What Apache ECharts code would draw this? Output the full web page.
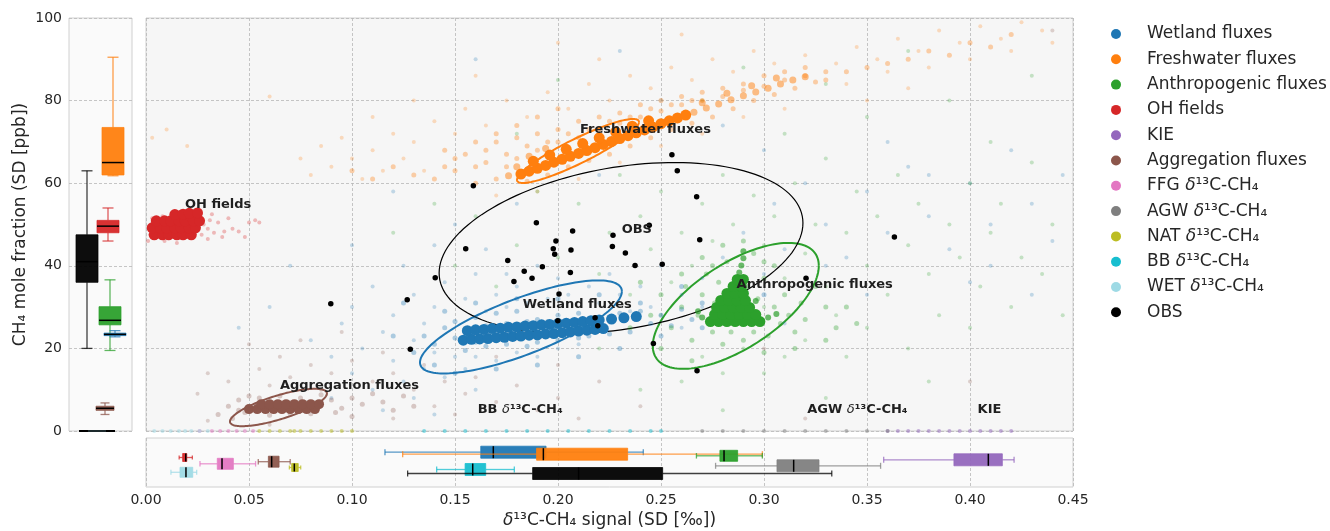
<!DOCTYPE html>
<html><head><meta charset="utf-8">
<script src="https://cdn.jsdelivr.net/npm/echarts@6/dist/echarts.min.js"></script>
<style>html,body{margin:0;padding:0;background:#fff}#c{width:1330px;height:531px}</style>
</head><body><div id="c"></div><script>
const FONT = 'DejaVu Sans';
const INK = '#262626';

// ---------- axes ----------
const permilTicks = [0, 0.05, 0.10, 0.15, 0.20, 0.25, 0.30, 0.35, 0.40, 0.45];
const ppbTicks = [0, 20, 40, 60, 80, 100];

// ---------- sources ----------
const sourceNames = ['Wetland fluxes','Freshwater fluxes','Anthropogenic fluxes','OH fields','KIE','Aggregation fluxes',
  'FFG δ¹³C-CH₄','AGW δ¹³C-CH₄','NAT δ¹³C-CH₄','BB δ¹³C-CH₄','WET δ¹³C-CH₄','OBS'];
const sourceColors = ['#1f77b4','#ff7f0e','#2ca02c','#d62728','#9467bd','#8c564b',
  '#e377c2','#7f7f7f','#bcbd22','#17becf','#9edae5','#000000'];

// ---------- scatter: [SD d13C (permil), SD CH4 (ppb)] ----------
const wetlandSpread = [[0.08,22],[0.09,18],[0.095,26],[0.1,14],[0.1,30],[0.105,20],[0.11,35],[0.11,10],[0.115,24],[0.12,17],[0.12,28],[0.125,40],[0.125,12],[0.13,22],[0.13,33],[0.135,15],[0.135,26],[0.14,19],[0.14,30],[0.14,45],[0.145,13],[0.145,36],[0.15,18],[0.15,50],[0.155,32],[0.155,15],[0.16,38],[0.16,18],[0.165,29],[0.165,44],[0.17,17],[0.17,33],[0.175,30],[0.175,38],[0.18,19],[0.18,35],[0.185,31],[0.19,18],[0.19,40],[0.195,32],[0.2,20],[0.2,37],[0.205,33],[0.21,21],[0.215,35],[0.22,31],[0.225,38],[0.23,33],[0.235,29],[0.24,35],[0.245,30],[0.25,40],[0.26,33],[0.26,25],[0.27,37],[0.27,30],[0.28,42],[0.285,34],[0.29,48],[0.3,38],[0.305,55],[0.31,44],[0.32,60],[0.33,50],[0.34,42],[0.35,58],[0.36,48],[0.37,64],[0.38,52],[0.39,44],[0.4,60],[0.41,50],[0.42,68],[0.43,55],[0.44,46],[0.445,62],[0.3,68],[0.28,74],[0.25,80],[0.22,62],[0.18,55],[0.12,58],[0.1,45],[0.07,40],[0.06,30],[0.045,25],[0.16,90],[0.23,92],[0.115,5],[0.09,8],[0.36,70],[0.41,40],[0.43,33],[0.13,8],[0.14,4],[0.16,10],[0.31,26],[0.33,40],[0.35,33],[0.38,62],[0.4,36]];
const wetlandHalo = [[0.14,21],[0.145,25],[0.15,22.5],[0.15,26.5],[0.155,19.5],[0.155,24],[0.16,21.5],[0.16,27.5],[0.165,25.5],[0.165,20.5],[0.17,22],[0.17,28.5],[0.175,26],[0.175,21],[0.18,24.5],[0.18,29],[0.185,26.5],[0.185,20.5],[0.19,27],[0.19,21.5],[0.195,26.5],[0.2,22],[0.2,28],[0.205,26.5],[0.21,22.5],[0.21,28.5],[0.215,23],[0.22,27.5],[0.225,23.5],[0.23,28.5],[0.235,24],[0.24,29],[0.245,26],[0.25,28],[0.255,25.5],[0.26,29.5],[0.265,27],[0.27,31],[0.275,28.5],[0.28,32],[0.13,19],[0.135,23],[0.14,16],[0.145,29],[0.15,14],[0.16,31],[0.17,15],[0.18,32],[0.19,16],[0.2,32],[0.21,18],[0.22,33],[0.23,20],[0.24,31],[0.25,23],[0.26,35],[0.27,25],[0.285,30],[0.29,36],[0.3,33],[0.12,23],[0.125,31]];
const wetlandCore = [[0.154,22],[0.158,22.2],[0.162,22.3],[0.166,22.4],[0.17,22.6],[0.174,22.7],[0.178,22.9],[0.182,23],[0.186,23.2],[0.19,23.3],[0.194,23.5],[0.198,23.6],[0.202,23.8],[0.206,24],[0.21,24.2],[0.214,24.4],[0.218,24.6],[0.222,24.8],
  [0.156,24.3],[0.16,24.5],[0.164,24.6],[0.168,24.8],[0.172,24.9],[0.176,25.1],[0.18,25.2],[0.184,25.4],[0.188,25.5],[0.192,25.7],[0.196,25.8],[0.2,26],[0.204,26.1],[0.208,26.3],[0.212,26.5],[0.216,26.7],[0.22,26.9],[0.226,27.1],[0.232,27.4],[0.238,27.7]];

const freshSpread = [[0.003,71],[0.01,73],[0.02,69],[0.06,81],[0.075,66],[0.08,62],[0.085,69],[0.09,64],[0.095,71],[0.1,66],[0.105,61],[0.11,68],[0.115,63],[0.12,72],[0.125,66],[0.13,70],[0.135,63],[0.14,75],[0.15,72],[0.155,78],[0.165,74],[0.175,80],[0.185,76],[0.195,82],[0.205,78],[0.215,84],[0.225,80],[0.235,86],[0.245,83],[0.255,88],[0.265,85],[0.275,90],[0.285,87],[0.295,92],[0.305,89],[0.32,91],[0.335,89],[0.345,93],[0.355,90],[0.365,95],[0.375,92],[0.385,97],[0.395,94],[0.405,98],[0.415,95],[0.425,99],[0.435,97],[0.44,94],[0.34,84],[0.36,87],[0.38,88],[0.4,90],[0.42,92],[0.35,80],[0.37,83],[0.31,78],[0.29,76],[0.27,72],[0.25,69],[0.23,65],[0.21,61],[0.19,58],[0.17,57],[0.22,90],[0.2,94],[0.26,96],[0.16,86],[0.13,80],[0.11,76]];
const freshHalo = [[0.17,61],[0.175,64],[0.18,66],[0.185,60.5],[0.19,68],[0.195,62],[0.2,70],[0.205,64],[0.21,71],[0.215,65.5],[0.22,73],[0.225,67],[0.23,74.5],[0.235,69],[0.24,76],[0.245,71],[0.25,77.5],[0.255,73],[0.26,79],[0.265,74.5],[0.27,80],[0.275,76],[0.28,81],[0.285,78],[0.29,82.5],[0.295,80],[0.3,83.5],[0.305,81.5],[0.31,85],[0.315,83],[0.32,86],[0.325,84.5],[0.33,87],[0.15,63],[0.155,67],[0.16,60],[0.165,65],[0.14,61],[0.145,68],[0.16,70],[0.17,72],[0.18,74],[0.19,76],[0.2,78],
  [0.145,64],[0.15,66],[0.16,64],[0.165,68],[0.17,70],[0.175,67],[0.18,71],[0.185,69],[0.19,72],[0.195,70],[0.2,73],[0.205,72],[0.21,75],[0.215,73],[0.22,76],[0.225,75],[0.23,77],[0.235,76],[0.24,79],[0.245,78],[0.25,80],[0.255,79],[0.26,81],[0.265,80],[0.27,82],[0.28,83],[0.29,84],[0.3,86],[0.31,87],[0.32,88],[0.33,85],[0.34,87],[0.35,88],[0.36,89],[0.37,90],[0.38,92],[0.39,91],[0.4,94],[0.41,93],[0.42,96],[0.13,62],[0.12,64],[0.11,61],[0.1,63]];
const freshRidge = [[0.266,77.2],[0.272,78.2],[0.278,79.2],[0.284,80.2],[0.29,81.2],[0.296,82.1],[0.302,83],[0.308,84],[0.314,85],[0.32,85.8],[0.27,79.5],[0.282,81.8],[0.294,83.6],[0.306,85.5],[0.176,61.8],[0.18,64],[0.186,66.5],[0.194,68.4]];
const freshCore = [[0.182,62.2],[0.186,62.9],[0.19,63.6],[0.194,64.3],[0.198,65.1],[0.202,65.8],[0.206,66.5],[0.21,67.2],[0.214,67.9],[0.218,68.6],[0.222,69.4],[0.226,70.1],[0.23,70.8],[0.234,71.5],[0.238,72.2],[0.242,72.9],[0.246,73.6],[0.25,74.4],[0.254,75.1],[0.258,75.8],[0.262,76.5],
  [0.188,65.3],[0.196,66.8],[0.204,68.2],[0.212,69.6],[0.22,71],[0.228,72.4],[0.236,73.8],[0.244,75.1]];

const anthroSpread = [[0.15,40],[0.16,52],[0.17,35],[0.18,45],[0.19,58],[0.2,42],[0.21,55],[0.22,38],[0.225,48],[0.23,62],[0.235,33],[0.24,52],[0.245,44],[0.25,58],[0.255,36],[0.26,48],[0.26,12],[0.265,40],[0.27,55],[0.27,18],[0.275,46],[0.28,62],[0.28,14],[0.285,50],[0.29,20],[0.295,57],[0.3,45],[0.3,14],[0.305,52],[0.31,37],[0.31,18],[0.315,60],[0.32,43],[0.32,22],[0.325,50],[0.33,35],[0.33,66],[0.335,28],[0.34,48],[0.34,18],[0.345,58],[0.35,40],[0.35,25],[0.355,52],[0.36,33],[0.365,62],[0.37,45],[0.37,20],[0.375,55],[0.38,38],[0.385,28],[0.39,50],[0.395,42],[0.4,60],[0.4,25],[0.405,35],[0.41,48],[0.415,55],[0.42,30],[0.425,42],[0.43,65],[0.435,38],[0.44,50],[0.445,28],[0.25,75],[0.27,80],[0.29,88],[0.31,72],[0.33,84],[0.35,76],[0.37,92],[0.39,80],[0.41,70],[0.43,86],[0.2,85],[0.18,72],[0.14,55],[0.12,48],[0.22,20],[0.24,10],[0.28,5],[0.33,8],[0.38,12],[0.3,30],[0.25,28]];
const anthroHalo = [[0.255,25],[0.26,30],[0.262,35],[0.265,22],[0.268,28],[0.27,33],[0.272,38],[0.275,24],[0.276,31],[0.278,36],[0.28,21],[0.282,41],[0.284,24],[0.286,37],[0.29,22],[0.292,35],[0.295,24],[0.297,32],[0.3,37],[0.302,23],[0.305,30],[0.308,26],[0.31,33],[0.312,28],[0.315,24],[0.318,31],[0.32,27],[0.26,38],[0.27,42],[0.28,45],[0.29,46],[0.295,43],[0.3,41],[0.25,33],[0.245,28],[0.33,30],[0.335,25],[0.325,35],[0.24,36],[0.235,25],[0.25,20],[0.265,17],[0.3,19],[0.315,20],[0.33,22],[0.34,30],[0.345,26],[0.275,40],[0.305,40]];
const anthroCore = [[0.274,26.5],[0.278,26.5],[0.282,26.5],[0.286,26.5],[0.29,26.5],[0.294,26.5],[0.298,26.5],
  [0.276,28.2],[0.28,28.2],[0.284,28.2],[0.288,28.2],[0.292,28.2],[0.296,28.2],
  [0.277,29.9],[0.281,29.9],[0.285,29.9],[0.289,29.9],[0.293,29.9],
  [0.279,31.6],[0.283,31.6],[0.287,31.6],[0.291,31.6],
  [0.282,33.3],[0.286,33.3],[0.29,33.3],[0.285,35],[0.289,35],[0.287,36.7],[0.29,36.7]];
const anthroStreak = [[0.288,38.4],[0.289,40.1],[0.29,41.8],[0.29,43.5],[0.27,27.5],[0.268,29],[0.302,27.5],[0.306,28.3],[0.296,31.5]];

const ohSpread = [[0.001,46],[0.003,51.5],[0.002,47.5],[0.028,50],[0.03,49],[0.031,51],[0.033,48],[0.035,50.5],[0.037,47],[0.04,51.5],[0.042,49],[0.045,48.3],[0.05,50.5],[0.053,51],[0.055,50.5],[0.048,47],[0.038,48.3],[0.03,46.5],[0.015,45.5],[0.009,46],[0.027,47.5],[0.032,52.5],[0.016,53],[0.008,52]];
const ohCore = [[0.004,47.5],[0.008,47.5],[0.011,47.5],[0.015,47.5],[0.018,47.5],[0.022,47.5],
  [0.003,49.2],[0.007,49.2],[0.01,49.2],[0.014,49.2],[0.017,49.2],[0.021,49.2],[0.024,49.2],
  [0.005,50.9],[0.009,50.9],[0.012,50.9],[0.016,50.9],[0.019,50.9],[0.023,50.9],[0.026,50.9],
  [0.014,52.4],[0.018,52.5],[0.021,52.7],[0.025,52.8]];

const aggSpread = [[0.025,9],[0.03,14],[0.04,12],[0.055,15],[0.06,11],[0.065,18],[0.07,13],[0.08,16],[0.085,10],[0.09,14],[0.1,17],[0.11,12],[0.115,19],[0.12,14],[0.13,10],[0.135,16],[0.14,6],[0.145,12],[0.15,4],[0.155,9],[0.16,13],[0.17,7],[0.18,11],[0.19,5],[0.2,8],[0.21,3],[0.22,12],[0.24,6],[0.05,21],[0.075,22],[0.095,24],[0.12,3],[0.06,1.5],[0.03,2.5],[0.17,18],[0.2,16],[0.3,20],[0.32,3],[0.4,12],[0.44,97]];
const aggHalo = [[0.035,4],[0.04,6],[0.042,3],[0.045,7.5],[0.048,4.5],[0.05,8.5],[0.09,7.5],[0.095,5.5],[0.1,8],[0.105,6.5],[0.11,9],[0.115,7],[0.12,5],[0.125,8.5],[0.045,5],[0.092,4.5],[0.1,3.5],[0.13,6],[0.055,8],[0.065,8.5],[0.075,8],[0.085,8.8],[0.06,3.8],[0.07,4],[0.08,4.2]];
const aggCore = [[0.05,5.3],[0.054,5.3],[0.058,5.3],[0.062,5.3],[0.066,5.3],[0.07,5.3],[0.074,5.3],[0.078,5.3],[0.082,5.3],
  [0.056,6.5],[0.06,6.5],[0.064,6.5],[0.068,6.5],[0.072,6.5],[0.076,6.5],[0.08,6.5],[0.084,6.5]];

// sources with no CH4 signal (plotted on the 0 ppb line)
const kieZero = [[0.36,0],[0.365,0],[0.37,0],[0.375,0],[0.38,0],[0.385,0],[0.39,0],[0.395,0],[0.4,0],[0.405,0],[0.41,0],[0.415,0],[0.42,0]];
const ffgZero = [[0.026,0],[0.032,0],[0.036,0],[0.04,0],[0.044,0],[0.048,0],[0.052,0]];
const agwZero = [[0.27,0],[0.28,0],[0.29,0],[0.3,0],[0.31,0],[0.32,0],[0.33,0],[0.34,0],[0.35,0],[0.36,0]];
const natZero = [[0.055,0],[0.06,0],[0.065,0],[0.07,0],[0.072,0],[0.075,0],[0.08,0],[0.085,0],[0.09,0],[0.095,0],[0.1,0]];
const bbZero = [[0.135,0],[0.145,0],[0.155,0],[0.165,0],[0.175,0],[0.185,0],[0.195,0],[0.205,0],[0.215,0],[0.225,0],[0.235,0],[0.245,0],[0.25,0]];
const wetZero = [[0.004,0],[0.008,0],[0.012,0],[0.016,0],[0.019,0],[0.022,0],[0.026,0],[0.03,0]];

const obsPoints = [[0.1589,59.4],[0.1895,50.4],[0.2071,48.4],[0.1552,44.1],[0.199,46.0],[0.1977,44.1],[0.2063,43.8],[0.1984,42.8],[0.1756,41.3],[0.1924,39.8],[0.1836,38.7],[0.206,38.4],[0.1874,37.0],[0.1404,37.1],[0.1786,36.2],[0.2005,33.2],[0.0897,30.8],[0.1268,31.8],[0.1999,26.7],[0.218,27.4],[0.2193,25.5],[0.1283,19.8],[0.2553,66.9],[0.2579,63.0],[0.2673,56.7],[0.2443,49.8],[0.2267,47.4],[0.2688,46.3],[0.2264,44.7],[0.2327,43.1],[0.2374,40.1],[0.2506,40.4],[0.3204,37.0],[0.3633,47.0],[0.2463,21.2],[0.2675,14.6]];

// ---------- confidence ellipses: [centre x, centre y, half-width x, half-height y, y-offset at right tip] ----------
const ellipseNames = ['Wetland fluxes','Freshwater fluxes','Anthropogenic fluxes','Aggregation fluxes','OBS'];
const ellipseParams = [[0.182,25.2,0.049,11.26,8.6],[0.2097,67.8,0.0296,7.75,7.0],[0.2863,30.3,0.0403,15.25,9.69],[0.0643,5.69,0.02354,4.53,3.39],[0.2306,44.3,0.0883,20.7,6.05]];

// ---------- box statistics: [whisker low, Q1, median, Q3, whisker high] ----------
const ppbBoxNames = ['OBS','Freshwater fluxes','OH fields','Anthropogenic fluxes','Wetland fluxes','Aggregation fluxes',
  'KIE','FFG δ¹³C-CH₄','AGW δ¹³C-CH₄','NAT δ¹³C-CH₄','BB δ¹³C-CH₄','WET δ¹³C-CH₄'];
const ppbBoxStats = [[20,36,41,47.5,63],[61.8,62,65,73.5,90.5],[46,48,49.6,51,54],[19.5,25.7,26.8,30.1,36.6],[22.8,23.1,23.4,23.7,24.3],[4,5,5.5,6,6.8],
  [0,0,0,0,0],[0,0,0,0,0],[0,0,0,0,0],[0,0,0,0,0],[0,0,0,0,0],[0,0,0,0,0]];
const permilBoxNames = ['Wetland fluxes','Freshwater fluxes','Anthropogenic fluxes','OH fields','KIE','Aggregation fluxes',
  'FFG δ¹³C-CH₄','AGW δ¹³C-CH₄','NAT δ¹³C-CH₄','BB δ¹³C-CH₄','WET δ¹³C-CH₄','OBS'];
const permilBoxStats = [[0.116,0.1625,0.1686,0.1942,0.2414],[0.1246,0.1896,0.1929,0.2338,0.2992],[0.2672,0.2786,0.2806,0.2872,0.2992],
  [0.0161,0.0178,0.0193,0.0198,0.0225],[0.3581,0.3922,0.4089,0.4157,0.4214],[0.0545,0.0594,0.061,0.0646,0.070],
  [0.0262,0.0346,0.0369,0.0424,0.0532],[0.2765,0.3063,0.3144,0.3267,0.3566],[0.0696,0.0707,0.072,0.0739,0.0751],
  [0.1411,0.1549,0.1586,0.1649,0.1788],[0.0121,0.0165,0.0194,0.0227,0.0246],[0.127,0.1877,0.21,0.2508,0.3329]];

// ---------- cluster labels ----------
const labelTexts = ['OH fields','Freshwater fluxes','OBS','Wetland fluxes','Anthropogenic fluxes','Aggregation fluxes','BB δ¹³C-CH₄','AGW δ¹³C-CH₄','KIE'];
const labelAnchors = [[0.0189,54.7],[0.2107,72.9],[0.2309,48.8],[0.1829,30.5],[0.2867,35.4],[0.065,10.9],[0.161,5.25],[0.321,5.25],[0.4037,5.25]];

// ---------- layout (not data) ----------
const ppbBoxSlot = [18,44,39,41,46,36,28,28,28,28,28,28];     // px within left panel
const ppbBoxWidth = [22,22,22,22,22,18,36,36,36,36,36,36];
const permilBoxRow = [14.2,16.2,17.8,19.5,21.8,23.7,25.8,27.8,29.5,31.5,34.3,35.5]; // px within bottom panel
const permilBoxHeight = [12,12,11,8,12,11,11,12,8,12,10,12];

const colorOf = n => sourceColors[sourceNames.indexOf(n)];

function scatter(name, data, size, opacity) {
  return {type:'scatter', name, xAxisIndex:0, yAxisIndex:0, data, symbolSize:size, silent:true,
    itemStyle:{color:colorOf(name), opacity, borderWidth:0}, emphasis:{disabled:true}};
}

const series = [];
// sparse clouds
series.push(scatter('Wetland fluxes', wetlandSpread, 4, 0.25));
series.push(scatter('Freshwater fluxes', freshSpread, 4, 0.25));
series.push(scatter('Anthropogenic fluxes', anthroSpread, 4, 0.25));
series.push(scatter('OH fields', ohSpread, 4, 0.3));
series.push(scatter('KIE', kieZero, 4, 0.5));
series.push(scatter('Aggregation fluxes', aggSpread, 4, 0.25));
series.push(scatter('FFG δ¹³C-CH₄', ffgZero, 4, 0.5));
series.push(scatter('AGW δ¹³C-CH₄', agwZero, 4, 0.5));
series.push(scatter('NAT δ¹³C-CH₄', natZero, 4, 0.5));
series.push(scatter('BB δ¹³C-CH₄', bbZero, 4, 0.5));
series.push(scatter('WET δ¹³C-CH₄', wetZero, 4, 0.5));
series.push(scatter('OBS', [], 5.5, 1));
// halos
series.push(scatter('Wetland fluxes', wetlandHalo, 5, 0.35));
series.push(scatter('Freshwater fluxes', freshHalo, 5, 0.35));
series.push(scatter('Anthropogenic fluxes', anthroHalo, 5, 0.35));
series.push(scatter('Aggregation fluxes', aggHalo, 5, 0.3));
series.push(scatter('Freshwater fluxes', freshRidge, 7, 0.5));
series.push(scatter('Anthropogenic fluxes', anthroStreak, 6, 0.7));
// cores (solid)
series.push(scatter('Wetland fluxes', wetlandCore, 11, 1));
series.push(scatter('Freshwater fluxes', freshCore, 11, 1));
series.push(scatter('Anthropogenic fluxes', anthroCore, 11, 1));
series.push(scatter('OH fields', ohCore, 11, 1));
series.push(scatter('Aggregation fluxes', aggCore, 10, 1));

// ellipses
ellipseNames.forEach((n, i) => {
  series.push({type:'custom', name:n, xAxisIndex:0, yAxisIndex:0, silent:true,
    itemStyle:{color:colorOf(n)},
    data:[ellipseParams[i]], encode:{x:0, y:1},
    renderItem:(params, api) => {
      const cx = api.value(0), cy = api.value(1), rx = api.value(2), ry = api.value(3), dy = api.value(4);
      const k = Math.sqrt(Math.max(ry*ry - dy*dy, 0));
      const pts = [];
      for (let j = 0; j <= 144; j++) {
        const t = j / 144 * 2 * Math.PI;
        pts.push(api.coord([cx + rx*Math.cos(t), cy + dy*Math.cos(t) + k*Math.sin(t)]));
      }
      return {type:'polyline', shape:{points:pts}, style:{fill:null, stroke:colorOf(n), lineWidth: n === 'OBS' ? 1.2 : 2}};
    }});
});

// OBS points
series.push({type:'scatter', name:'OBS', xAxisIndex:0, yAxisIndex:0, data:obsPoints, symbolSize:5.5, silent:true,
  itemStyle:{color:'#000', opacity:1, borderWidth:0}, z:3});

// cluster labels
series.push({type:'scatter', xAxisIndex:0, yAxisIndex:0, symbolSize:0, silent:true, z:4,
  itemStyle:{opacity:1},
  data: labelAnchors.map((p, i) => [p[0], p[1], labelTexts[i]]),
  label:{show:true, position:'right', distance:0, formatter:p => p.data[2].replace('δ','{i|δ}'),
    fontFamily:FONT, fontWeight:'bold', fontSize:13, color:'#1f1f1f', textBorderWidth:0, opacity:1,
    rich:{i:{fontStyle:'italic', fontWeight:'normal', fontSize:13, fontFamily:FONT, color:'#1f1f1f', textBorderWidth:0}}}});

// vertical boxes (ppb)
ppbBoxNames.forEach((n, i) => {
  const w = ppbBoxWidth[i], col = colorOf(n);
  series.push({type:'custom', name:n, xAxisIndex:1, yAxisIndex:1, silent:true, itemStyle:{color:col},
    data:[[ppbBoxSlot[i]].concat(ppbBoxStats[i])], encode:{x:0, y:[1,2,3,4,5]},
    renderItem:(params, api) => {
      const x = api.value(0);
      const c = d => api.coord([x, api.value(d)]);
      const lo = c(1), q1 = c(2), md = c(3), q3 = c(4), hi = c(5);
      const cx = lo[0], cap = w / 4;
      const ls = {stroke:col, lineWidth:1.3, opacity:0.75};
      const ch = [
        {type:'line', shape:{x1:cx, y1:lo[1], x2:cx, y2:q1[1]}, style:ls},
        {type:'line', shape:{x1:cx, y1:q3[1], x2:cx, y2:hi[1]}, style:ls},
        {type:'line', shape:{x1:cx-cap, y1:lo[1], x2:cx+cap, y2:lo[1]}, style:ls},
        {type:'line', shape:{x1:cx-cap, y1:hi[1], x2:cx+cap, y2:hi[1]}, style:ls}];
      if (q1[1] - q3[1] > 0.5) ch.push({type:'rect', shape:{x:cx-w/2, y:q3[1], width:w, height:q1[1]-q3[1]}, style:{fill:col, stroke:col, lineWidth:0.8, opacity:0.95}});
      ch.push({type:'line', shape:{x1:cx-w/2, y1:md[1], x2:cx+w/2, y2:md[1]}, style:{stroke:'#000', lineWidth:1.5}});
      return {type:'group', children:ch};
    }});
});

// horizontal boxes (permil)
permilBoxNames.forEach((n, i) => {
  const h = permilBoxHeight[i], col = colorOf(n);
  series.push({type:'custom', name:n, xAxisIndex:2, yAxisIndex:2, silent:true, itemStyle:{color:col},
    data:[[permilBoxRow[i]].concat(permilBoxStats[i])], encode:{y:0, x:[1,2,3,4,5]},
    renderItem:(params, api) => {
      const y = api.value(0);
      const c = d => api.coord([api.value(d), y]);
      const lo = c(1), q1 = c(2), md = c(3), q3 = c(4), hi = c(5);
      const cy = lo[1], cap = h / 4;
      const ls = {stroke:col, lineWidth:1.3, opacity:0.75};
      return {type:'group', children:[
        {type:'line', shape:{x1:lo[0], y1:cy, x2:q1[0], y2:cy}, style:ls},
        {type:'line', shape:{x1:q3[0], y1:cy, x2:hi[0], y2:cy}, style:ls},
        {type:'line', shape:{x1:lo[0], y1:cy-cap, x2:lo[0], y2:cy+cap}, style:ls},
        {type:'line', shape:{x1:hi[0], y1:cy-cap, x2:hi[0], y2:cy+cap}, style:ls},
        {type:'rect', shape:{x:q1[0], y:cy-h/2, width:q3[0]-q1[0], height:h}, style:{fill:col, stroke:col, lineWidth:0.8, opacity:0.95}},
        {type:'line', shape:{x1:md[0], y1:cy-h/2, x2:md[0], y2:cy+h/2}, style:{stroke:'#000', lineWidth:1.5}}
      ]};
    }});
});

const splitLine = {show:true, lineStyle:{color:'#b8b8b8', type:[3,2], width:0.8}};
const hidden = {axisLine:{show:false}, axisTick:{show:false}, axisLabel:{show:false}};
const tickFont = {fontFamily:FONT, fontSize:14, color:INK};

const option = {
  animation:false,
  backgroundColor:'#ffffff',
  textStyle:{fontFamily:FONT},
  grid:[
    {left:146, top:18, width:927, height:413, show:true, backgroundColor:'#f6f6f6', borderColor:'#d0d0d0', borderWidth:1},
    {left:69, top:18, width:63, height:413, show:true, backgroundColor:'#fafafa', borderColor:'#d0d0d0', borderWidth:1},
    {left:146, top:438, width:927, height:49, show:true, backgroundColor:'#fafafa', borderColor:'#d0d0d0', borderWidth:1}
  ],
  xAxis:[
    Object.assign({type:'value', gridIndex:0, min:permilTicks[0], max:permilTicks[permilTicks.length-1], interval:permilTicks[1]-permilTicks[0], splitLine}, hidden),
    Object.assign({type:'value', gridIndex:1, min:0, max:63, splitLine:{show:false}}, hidden),
    {type:'value', gridIndex:2, min:permilTicks[0], max:permilTicks[permilTicks.length-1], interval:permilTicks[1]-permilTicks[0], splitLine,
      axisLine:{show:false}, axisTick:{show:false},
      axisLabel:Object.assign({margin:6, formatter:v => v.toFixed(2)}, tickFont),
      name:'{i|δ}¹³C-CH₄ signal (SD [‰])', nameLocation:'middle', nameGap:25,
      nameTextStyle:{fontFamily:FONT, fontSize:17, color:INK, rich:{i:{fontStyle:'italic', fontFamily:FONT, fontSize:17, color:INK}}}}
  ],
  yAxis:[
    Object.assign({type:'value', gridIndex:0, min:ppbTicks[0], max:ppbTicks[ppbTicks.length-1], interval:ppbTicks[1]-ppbTicks[0], splitLine}, hidden),
    {type:'value', gridIndex:1, min:ppbTicks[0], max:ppbTicks[ppbTicks.length-1], interval:ppbTicks[1]-ppbTicks[0], splitLine,
      axisLine:{show:false}, axisTick:{show:false}, axisLabel:Object.assign({margin:7}, tickFont),
      name:'CH₄ mole fraction (SD [ppb])', nameLocation:'middle', nameRotate:90, nameGap:40,
      nameTextStyle:{fontFamily:FONT, fontSize:17, color:INK}},
    Object.assign({type:'value', gridIndex:2, min:0, max:49, inverse:true, splitLine:{show:false}}, hidden)
  ],
  legend:{
    orient:'vertical', left:1106, top:20.5, icon:'circle', itemWidth:52, itemHeight:10, itemGap:8.3,
    data:sourceNames, selectedMode:false,
    itemStyle:{opacity:1, borderWidth:0},
    formatter:n => n.replace('δ','{i|δ}'),
    textStyle:{fontFamily:FONT, fontSize:17, lineHeight:17, color:INK,
      rich:{i:{fontStyle:'italic', fontFamily:FONT, fontSize:17, color:INK}}}
  },
  series
};

const chart = echarts.init(document.getElementById('c'), null, {renderer:'canvas'});
chart.setOption(option);
</script></body></html>
